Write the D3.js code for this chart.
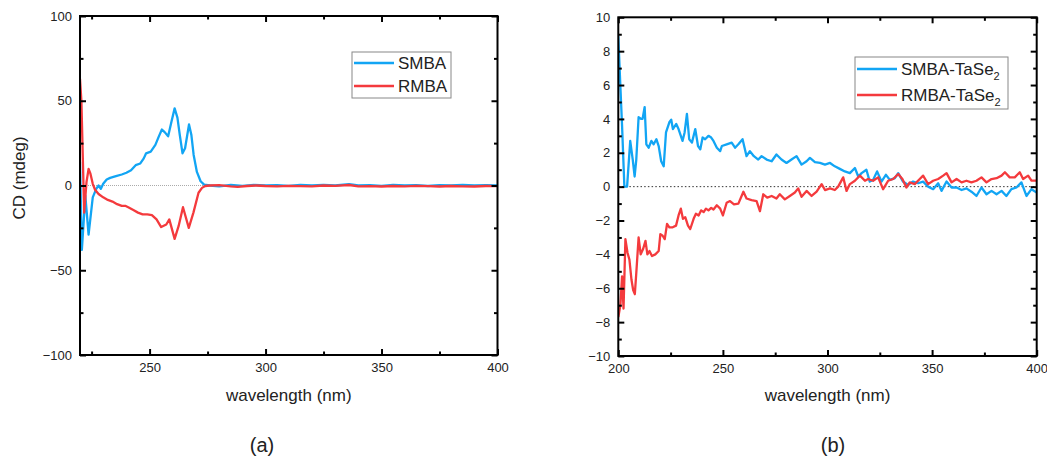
<!DOCTYPE html>
<html>
<head>
<meta charset="utf-8">
<script src="https://cdn.jsdelivr.net/npm/d3@7"></script>
<style>
  body { margin: 0; background: #fff; }
  svg { display: block; font-family: Arial, "Liberation Sans", sans-serif; }
</style>
</head>
<body>
<div id="chart"></div>
<script>
// ---- panel (a): MBA in solution ----
const smba_nm = [220, 220.8, 222.3, 223.7, 225.5, 227, 228, 229, 230, 231.5, 233, 235.5, 238, 240, 242, 244, 246, 247.5, 248.5,
  250.5, 252.5, 254, 255.3, 256.5, 258, 259.5, 260.8, 262, 263, 264.2, 265.3, 267, 268, 269, 270.4, 272, 273.5, 276,
  280, 285, 290, 295, 300, 305, 310, 315, 320, 325, 330, 336, 340, 345, 350, 355, 360, 365, 370, 375, 380, 385, 390, 395, 400];
const smba_cd = [14, -38, -6, -29, -7, -2, 0, -2, 1, 3.5, 4.5, 5.5, 6.5, 7.5, 9, 12, 13, 16, 19,
  20, 24, 29, 33, 31.5, 29, 38, 45.5, 40, 30, 19, 22, 36, 30, 18, 8, 2.5, 0.5, 0,
  -0.5, 0.3, -0.2, 0.3, 0, 0.2, -0.2, 0.4, 0, 0.3, 0, 0.8, 0, 0.2, -0.2, 0.3, 0, 0.2, -0.3, 0.2, 0, 0.3, 0, 0.2, 0];

const rmba_nm = [220, 220.6, 221.8, 222.8, 223.7, 224.5, 225.5, 226.5, 228, 230, 232, 234, 236, 238, 239.5, 241, 243, 245,
  247, 249, 251, 253, 255, 257.2, 258.5, 260.8, 262.5, 264.4, 266.9, 268.9, 271.1, 272.6, 274, 276,
  280, 285, 288, 292, 296, 300, 305, 310, 315, 320, 325, 330, 336, 340, 345, 350, 355, 360, 365, 370, 375, 380, 385, 390, 395, 400];
const rmba_cd = [63, 50, -16, 2, 9.8, 7, 1, -2.5, -5, -7, -8.5, -9.5, -11, -12, -12, -13, -14.5, -16,
  -17, -17, -17.5, -20, -24.5, -23, -20, -31.5, -24, -12.8, -25, -16, -4.3, -1.4, -0.3, 0,
  0.2, -0.5, -0.8, -0.3, 0, -0.3, -0.5, -0.2, -0.4, -0.5, 0, -0.2, 0.3, -0.5, -0.4, -0.6, -0.3, -0.5, -0.2, -0.4, -0.6, -0.3, -0.5, -0.6, -0.3, -0.4];

// ---- panel (b): MBA-TaSe2 ----
const stase_nm = [200, 201, 201.8, 202.9, 204.2, 205.7, 206.9, 207.8, 208.6, 209.7, 211, 211.6, 212.6, 213.4, 214.5, 215.8, 216.9,
  218.2, 219.3, 220.5, 221.7, 222.8, 224.4, 225.3, 226.1, 227.7, 228.8, 230.7, 231.7, 232.8, 233.9, 235.2, 236.8, 238.1,
  239.2, 240.3, 241.5, 243.1, 244.4, 245.5, 247.1, 248.7, 249.5, 251.8, 254.2, 255.8, 257.4, 259.4, 261.3, 262.9, 264.8,
  266.9, 268.5, 270.9, 273.3, 275.6, 278, 280.4, 282.8, 285.2, 287.6, 290, 291.6, 294, 296.4, 298.8, 301.2, 303.5, 305.9,
  308.3, 310.7, 313.1, 314.7, 316.3, 318.6, 320.2, 321.8, 323.7, 325.8, 327.9, 329.8, 332.2, 333.8, 336.1, 338.5, 340.9,
  343.3, 345.7, 348.1, 350.5, 352.9, 354.5, 356.9, 359.3, 361.7, 364.1, 366.4, 368.8, 371.2, 373.6, 376, 378.4, 380.8,
  383.2, 385.5, 387.9, 390.3, 392.7, 395.1, 397.5, 400];
const stase_cd = [8.9, 5.9, 3.6, 0, 0, 2.7, 1.6, 0.6, 1.6, 4.1, 4.0, 4.0, 4.7, 2.5, 2.3, 2.7, 2.5,
  2.8, 2.4, 1.5, 1.2, 3.2, 3.8, 3.95, 3.4, 3.7, 3.4, 2.7, 3.2, 4.3, 2.8, 2.6, 3.4, 2.4,
  2.2, 2.9, 2.8, 3.0, 2.9, 2.7, 2.3, 2.1, 2.4, 2.5, 2.6, 2.3, 2.5, 2.8, 1.8, 2.1, 1.8,
  1.6, 1.8, 1.6, 1.5, 1.9, 1.6, 1.4, 1.6, 1.8, 1.3, 1.5, 1.7, 1.45, 1.4, 1.3, 1.4, 1.2, 1.05,
  0.9, 0.8, 1.1, 0.6, 0.8, 1.0, 0.3, 0.4, 0.9, 0.3, 0.7, 0.4, 0.5, 0.8, 0.3, 0.1, 0.3,
  0.2, 0.3, 0, -0.15, 0.2, -0.25, 0.3, -0.05, -0.05, -0.2, -0.1, -0.3, -0.55, -0.05, -0.45, -0.25, -0.45,
  -0.25, -0.55, -0.15, -0.05, 0.25, -0.55, -0.15, -0.35];

const rtase_nm = [200, 201, 201.8, 202.5, 203.4, 204.4, 205.3, 206.3, 207.1, 207.9, 208.6, 209.7, 210.7, 211.8, 213, 213.9, 214.9,
  216.1, 217.7, 219.3, 220.1, 221.2, 222.2, 223.3, 224.4, 226, 227.6, 228.8, 229.9, 230.9, 232, 233.3, 234.4, 236,
  237.1, 238.4, 239.6, 240.8, 241.9, 243.1, 244.4, 245.5, 247.1, 248.7, 250, 251.8, 253.4, 255.3, 257.4, 259.8, 261.3,
  263.7, 266.1, 267.7, 269.3, 271.2, 273.3, 275.6, 277.2, 279.6, 282, 284.4, 286, 287.6, 290, 292.4, 294.8, 297.2,
  298.8, 301.2, 303.5, 305.1, 307.5, 309.1, 310.7, 313.1, 315.5, 317.9, 319.4, 321.8, 324.2, 326.6, 329, 331.4, 333.8,
  335.8, 337.7, 339.3, 341.7, 344.1, 345.7, 348.1, 350.5, 352.9, 355.3, 356.9, 359.3, 361.7, 364.1, 366.4, 368.8, 371.2,
  373.6, 376, 378.4, 380.8, 383.2, 384.8, 387.1, 389.5, 391.9, 393.5, 395.9, 397.5, 400];
const rtase_cd = [-7.7, -7.0, -5.3, -7.2, -3.1, -3.9, -4.3, -5.5, -6.1, -6.35, -5.1, -3.0, -4.0, -3.7, -3.2, -4.0, -3.8,
  -4.1, -4.0, -3.8, -2.8, -2.9, -3.1, -2.2, -2.4, -2.4, -2.3, -1.7, -1.3, -1.9, -1.8, -2.3, -2.5, -1.9,
  -1.6, -1.7, -1.4, -1.5, -1.3, -1.4, -1.25, -1.35, -1.1, -1.3, -1.7, -0.95, -0.85, -1.05, -1.0, -0.3, -0.7,
  -0.8, -0.85, -1.45, -0.45, -0.65, -0.55, -0.7, -0.45, -0.75, -0.55, -0.35, -0.1, -0.6, -0.25, -0.55, -0.3, 0.15,
  -0.2, -0.1, -0.2, 0, 0.55, -0.25, 0.15, 0.35, 0.65, 0.35, 0.45, 0.35, 0.55, -0.15, 0.35, 0.45, 0.75,
  0.45, -0.05, 0.25, 0.15, 0.45, 0.65, 0.15, 0.35, 0.45, 0.65, 0.8, 0.25, 0.45, 0.25, 0.35, 0.25, 0.35,
  0.55, 0.25, 0.45, 0.5, 0.65, 0.85, 0.55, 0.55, 0.85, 0.45, 0.65, 0.35, 0.35];

const blue = '#12a5f4';
const red = '#f43a3d';
const ink = '#222';

const svg = d3.select('#chart').append('svg')
  .attr('width', 1047)
  .attr('height', 457);

function draw_panel(p) {
  const x = d3.scaleLinear().domain(p.x_domain).range([p.left, p.right]);
  const y = d3.scaleLinear().domain(p.y_domain).range([p.bottom, p.top]);
  const g = svg.append('g');

  const clip_id = 'clip_' + p.name;
  svg.append('clipPath').attr('id', clip_id).append('rect')
    .attr('x', p.left).attr('y', p.top)
    .attr('width', p.right - p.left).attr('height', p.bottom - p.top);

  // zero reference
  g.append('line')
    .attr('x1', p.left).attr('x2', p.right)
    .attr('y1', y(0)).attr('y2', y(0))
    .attr('stroke', p.zero_color)
    .attr('stroke-width', 1)
    .attr('stroke-dasharray', p.zero_dash);

  const line = d3.line().x(d => x(d[0])).y(d => y(d[1]));
  p.series.forEach(s => {
    g.append('path')
      .datum(d3.zip(s.nm, s.cd))
      .attr('d', line)
      .attr('clip-path', `url(#${clip_id})`)
      .attr('fill', 'none')
      .attr('stroke', s.color)
      .attr('stroke-width', 2.3)
      .attr('stroke-linejoin', 'round');
  });

  // axes: inward ticks on all four sides, labels on left and bottom
  const axes = [
    {gen: d3.axisBottom(x), t: `translate(0,${p.bottom})`, major: p.x_major, minor: p.x_minor, labels: true},
    {gen: d3.axisTop(x), t: `translate(0,${p.top})`, major: p.x_major, minor: p.x_minor, labels: false},
    {gen: d3.axisLeft(y), t: `translate(${p.left},0)`, major: p.y_major, minor: p.y_minor, labels: true},
    {gen: d3.axisRight(y), t: `translate(${p.right},0)`, major: p.y_major, minor: p.y_minor, labels: false}
  ];
  axes.forEach(a => {
    const maj = g.append('g').attr('transform', a.t)
      .call(a.gen.tickValues(a.major).tickSizeInner(-6).tickSizeOuter(0).tickPadding(8)
        .tickFormat(a.labels ? d3.format('d') : ''));
    maj.select('.domain').remove();
    maj.selectAll('line').attr('stroke', '#000').attr('stroke-width', 2);
    maj.selectAll('text').attr('fill', ink).style('font-size', '13px')
      .style('font-family', 'Arial, "Liberation Sans", sans-serif');
    const mn = g.append('g').attr('transform', a.t)
      .call(a.gen.tickValues(a.minor).tickSizeInner(-3.5).tickSizeOuter(0).tickFormat(''));
    mn.select('.domain').remove();
    mn.selectAll('line').attr('stroke', '#000').attr('stroke-width', 2);
  });

  g.append('rect')
    .attr('x', p.left).attr('y', p.top)
    .attr('width', p.right - p.left).attr('height', p.bottom - p.top)
    .attr('fill', 'none').attr('stroke', '#000').attr('stroke-width', 2);

  // legend
  const lg = g.append('g');
  lg.append('rect')
    .attr('x', p.legend.x).attr('y', p.legend.y)
    .attr('width', p.legend.w).attr('height', p.legend.h)
    .attr('fill', '#fff').attr('stroke', '#888').attr('stroke-width', 1);
  p.series.forEach((s, i) => {
    const ly = p.legend.y + p.legend.row0 + i * p.legend.step;
    lg.append('line')
      .attr('x1', p.legend.x + 2).attr('x2', p.legend.x + 42)
      .attr('y1', ly).attr('y2', ly)
      .attr('stroke', s.color).attr('stroke-width', 2.3);
    const t = lg.append('text')
      .attr('x', p.legend.x + 46).attr('y', ly + 6)
      .attr('fill', ink).style('font-size', '17px');
    t.append('tspan').text(s.label);
    if (s.sub) t.append('tspan').text(s.sub).attr('dy', 5).style('font-size', '11px');
  });

  svg.append('text')
    .attr('x', (p.left + p.right) / 2).attr('y', 401)
    .attr('text-anchor', 'middle').attr('fill', ink)
    .style('font-size', '17px')
    .text('wavelength (nm)');

  svg.append('text')
    .attr('x', p.tag_x).attr('y', 452)
    .attr('text-anchor', 'middle').attr('fill', ink)
    .style('font-size', '20px')
    .text(p.tag);
}

draw_panel({
  name: 'a', left: 80, right: 497.5, top: 16, bottom: 355,
  x_domain: [220, 400], y_domain: [-100, 100],
  x_major: [250, 300, 350, 400], x_minor: [225, 275, 325, 375],
  y_major: [-100, -50, 0, 50, 100], y_minor: [-75, -25, 25, 75],
  zero_color: '#aaa', zero_dash: '1,1',
  series: [
    {nm: smba_nm, cd: smba_cd, color: blue, label: 'SMBA'},
    {nm: rmba_nm, cd: rmba_cd, color: red, label: 'RMBA'}
  ],
  legend: {x: 352, y: 52, w: 99, h: 46, row0: 11, step: 23},
  tag: '(a)', tag_x: 262
});

draw_panel({
  name: 'b', left: 618.3, right: 1036.7, top: 17.3, bottom: 356,
  x_domain: [200, 400], y_domain: [-10, 10],
  x_major: [200, 250, 300, 350, 400], x_minor: [225, 275, 325, 375],
  y_major: d3.range(-10, 11, 2), y_minor: d3.range(-9, 10, 2),
  zero_color: '#333', zero_dash: '1.5,2.2',
  series: [
    {nm: stase_nm, cd: stase_cd, color: blue, label: 'SMBA-TaSe', sub: '2'},
    {nm: rtase_nm, cd: rtase_cd, color: red, label: 'RMBA-TaSe', sub: '2'}
  ],
  legend: {x: 855, y: 57, w: 153, h: 52, row0: 12, step: 26},
  tag: '(b)', tag_x: 833
});

// y title only on the left panel
svg.append('text')
  .attr('transform', 'translate(25,178)rotate(-90)')
  .attr('text-anchor', 'middle').attr('fill', ink)
  .style('font-size', '17px')
  .text('CD (mdeg)');
</script>
</body>
</html>
